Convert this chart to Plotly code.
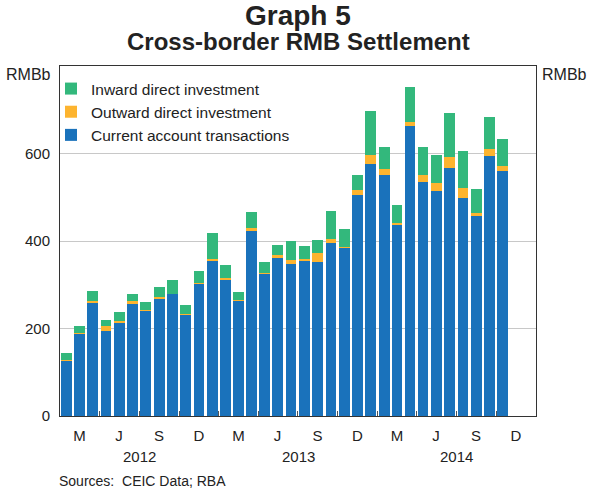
import plotly.graph_objects as go

months = ["2012-01", "2012-02", "2012-03", "2012-04", "2012-05", "2012-06",
          "2012-07", "2012-08", "2012-09", "2012-10", "2012-11", "2012-12",
          "2013-01", "2013-02", "2013-03", "2013-04", "2013-05", "2013-06",
          "2013-07", "2013-08", "2013-09", "2013-10", "2013-11", "2013-12",
          "2014-01", "2014-02", "2014-03", "2014-04", "2014-05", "2014-06",
          "2014-07", "2014-08", "2014-09", "2014-10"]

current_account = [127, 189, 260, 195, 214, 258, 242, 269, 279, 233, 302, 354,
                   313, 264, 424, 326, 362, 347, 355, 351, 396, 384, 506, 577,
                   550, 437, 663, 536, 515, 566, 499, 457, 595, 559]
outward_fdi = [2, 1, 2, 10, 4, 4, 1, 2, 1, 1, 3, 5,
               2, 2, 6, 2, 5, 9, 4, 21, 8, 3, 10, 19,
               14, 4, 9, 16, 17, 27, 23, 7, 15, 12]
inward_fdi = [16, 15, 23, 14, 19, 18, 17, 23, 31, 19, 27, 59,
              30, 17, 36, 24, 24, 44, 30, 31, 65, 40, 35, 102,
              50, 42, 81, 63, 65, 99, 84, 54, 74, 63]

quarter_label_dates = ["2012-02-15", "2012-05-16", "2012-08-16", "2012-11-16",
                       "2013-02-15", "2013-05-16", "2013-08-16", "2013-11-16",
                       "2014-02-15", "2014-05-16", "2014-08-16", "2014-11-16"]
quarter_labels = ["M", "J", "S", "D"] * 3
quarter_bounds = ["2012-04-01", "2012-07-01", "2012-10-01", "2013-01-01",
                  "2013-04-01", "2013-07-01", "2013-10-01", "2014-01-01",
                  "2014-04-01", "2014-07-01", "2014-10-01"]
years = ["2012", "2013", "2014"]
year_mids = ["2012-07-02", "2013-07-02", "2014-07-02"]
y_ticks = [0, 200, 400, 600]

BLUE = "#1A72BB"
ORANGE = "#FDB42F"
GREEN = "#33B87C"

fig = go.Figure()
for name, vals, col in [("Current account transactions", current_account, BLUE),
                        ("Outward direct investment", outward_fdi, ORANGE),
                        ("Inward direct investment", inward_fdi, GREEN)]:
    fig.add_bar(x=months, y=vals, name=name, marker_color=col,
                marker_line_width=0, xperiod="M1", xperiodalignment="middle",
                hoverinfo="x+y+name")

T, B = 66, 416
L, R = 60, 536
def py(p):
    return (B - p) / (B - T)
def px(p):
    return (p - L) / (R - L)

FONT = "Liberation Sans, Arial, sans-serif"
ann = [
    dict(text="<b>Graph 5</b>", x=0.5, y=py(15), font=dict(size=28)),
    dict(text="<b>Cross-border RMB Settlement</b>", x=0.5, y=py(41), font=dict(size=24)),
    dict(text="RMBb", x=px(53), y=py(75), xanchor="right", font=dict(size=16)),
    dict(text="RMBb", x=px(540), y=py(75), xanchor="left", font=dict(size=16)),
    dict(text="Sources:  CEIC Data; RBA", x=px(57), y=py(481), xanchor="left", font=dict(size=14)),
]
for yr, xm in zip(years, year_mids):
    ann.append(dict(text=yr, x=xm, xref="x", y=py(456), font=dict(size=15)))
for a in ann:
    a.setdefault("xref", "paper")
    a["yref"] = "paper"
    a["showarrow"] = False
    a.setdefault("xanchor", "center")
    a["yanchor"] = "middle"

fig.update_layout(
    width=598, height=492,
    margin=dict(l=L, r=598 - R, t=T, b=492 - B),
    barmode="stack", bargap=0.17,
    plot_bgcolor="white", paper_bgcolor="white",
    font=dict(family=FONT, color="#222", size=15),
    annotations=ann,
    legend=dict(x=px(51), y=py(72), xanchor="left", yanchor="top",
                traceorder="reversed", font=dict(size=15.5),
                bgcolor="rgba(0,0,0,0)", tracegroupgap=0),
    xaxis=dict(type="date", range=["2012-01-01", "2015-01-01"],
               tickmode="array", tickvals=quarter_label_dates, ticktext=quarter_labels,
               ticks="", showgrid=False, showline=True, linecolor="#333", linewidth=1,
               mirror=True, tickfont=dict(size=15), ticklabelstandoff=6,
               minor=dict(tickmode="array", tickvals=quarter_bounds, ticks="inside",
                          ticklen=5, tickcolor="#555", tickwidth=1, showgrid=False)),
    yaxis=dict(range=[0, 800], tickmode="array", tickvals=y_ticks, ticks="",
               showgrid=True, gridcolor="#c8c8c8", gridwidth=1, zeroline=False,
               showline=True, linecolor="#333", linewidth=1, mirror=True,
               tickfont=dict(size=15), ticklabelstandoff=6),
    yaxis2=dict(range=[0, 800], overlaying="y", side="right", tickmode="array",
                tickvals=y_ticks, ticks="", showgrid=False, zeroline=False,
                showline=False, tickfont=dict(size=15), ticklabelstandoff=4),
)
fig.write_html("out.html", config={"displayModeBar": False},
               post_script="document.body.style.margin='0';")
